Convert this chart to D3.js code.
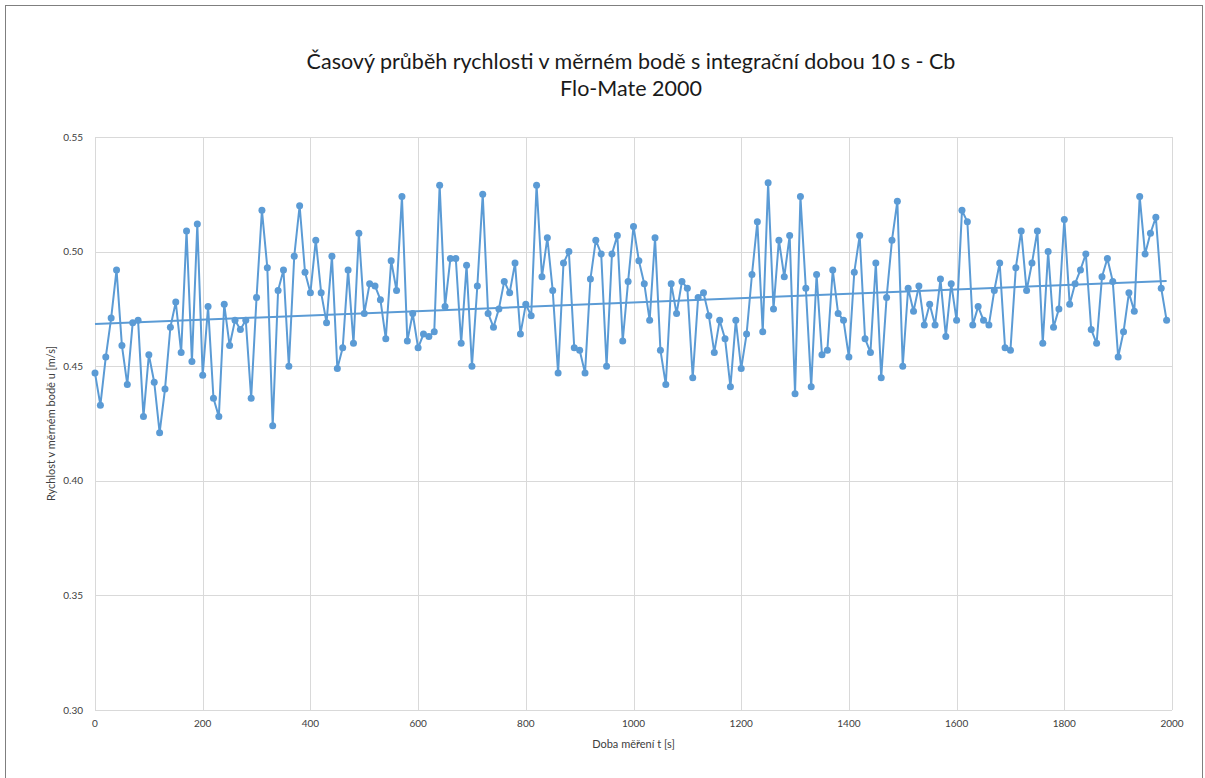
<!DOCTYPE html>
<html>
<head>
<meta charset="utf-8">
<script src="https://cdn.jsdelivr.net/npm/d3@7.9.0/dist/d3.min.js"></script>
<style>
  html, body { margin: 0; padding: 0; background: #fff; }
  svg { display: block; font-family: Lato, "Open Sans", sans-serif; }
</style>
</head>
<body>
<svg id="chart" width="1205" height="778"></svg>
<script>
// values: speed u [m/s] every 10 s, t = 0 .. 1990 s
const speeds = [
  0.447, 0.433, 0.454, 0.471, 0.492, 0.459, 0.442, 0.469, 0.470, 0.428,
  0.455, 0.443, 0.421, 0.440, 0.467, 0.478, 0.456, 0.509, 0.452, 0.512,
  0.446, 0.476, 0.436, 0.428, 0.477, 0.459, 0.470, 0.466, 0.470, 0.436,
  0.480, 0.518, 0.493, 0.424, 0.483, 0.492, 0.450, 0.498, 0.520, 0.491,
  0.482, 0.505, 0.482, 0.469, 0.498, 0.449, 0.458, 0.492, 0.460, 0.508,
  0.473, 0.486, 0.485, 0.479, 0.462, 0.496, 0.483, 0.524, 0.461, 0.473,
  0.458, 0.464, 0.463, 0.465, 0.529, 0.476, 0.497, 0.497, 0.460, 0.494,
  0.450, 0.485, 0.525, 0.473, 0.467, 0.475, 0.487, 0.482, 0.495, 0.464,
  0.477, 0.472, 0.529, 0.489, 0.506, 0.483, 0.447, 0.495, 0.500, 0.458,
  0.457, 0.447, 0.488, 0.505, 0.499, 0.450, 0.499, 0.507, 0.461, 0.487,
  0.511, 0.496, 0.486, 0.470, 0.506, 0.457, 0.442, 0.486, 0.473, 0.487,
  0.484, 0.445, 0.480, 0.482, 0.472, 0.456, 0.470, 0.462, 0.441, 0.470,
  0.449, 0.464, 0.490, 0.513, 0.465, 0.530, 0.475, 0.505, 0.489, 0.507,
  0.438, 0.524, 0.484, 0.441, 0.490, 0.455, 0.457, 0.492, 0.473, 0.470,
  0.454, 0.491, 0.507, 0.462, 0.456, 0.495, 0.445, 0.480, 0.505, 0.522,
  0.450, 0.484, 0.474, 0.485, 0.468, 0.477, 0.468, 0.488, 0.463, 0.486,
  0.470, 0.518, 0.513, 0.468, 0.476, 0.470, 0.468, 0.483, 0.495, 0.458,
  0.457, 0.493, 0.509, 0.483, 0.495, 0.509, 0.460, 0.500, 0.467, 0.475,
  0.514, 0.477, 0.486, 0.492, 0.499, 0.466, 0.460, 0.489, 0.497, 0.487,
  0.454, 0.465, 0.482, 0.474, 0.524, 0.499, 0.508, 0.515, 0.484, 0.470
];
const times = speeds.map((_, i) => i * 10);
const xTicks = [0, 200, 400, 600, 800, 1000, 1200, 1400, 1600, 1800, 2000];
const yTicks = [0.30, 0.35, 0.40, 0.45, 0.50, 0.55];
const titleLines = ['Časový průběh rychlosti v měrném bodě s integrační dobou 10 s - Cb', 'Flo-Mate 2000'];
const xTitle = 'Doba měření t [s]';
const yTitle = 'Rychlost v měrném bodě u [m/s]';

const data = times.map((t, i) => ({ t, u: speeds[i] }));

const svg = d3.select('#chart');
const margin = { top: 137, right: 33, bottom: 68, left: 95 };
const width = 1205, height = 778;
const blue = '#5b9bd5';

svg.append('rect')
  .attr('x', 5.5).attr('y', 5.5)
  .attr('width', 1197).attr('height', 780)
  .attr('fill', '#fff').attr('stroke', '#7f7f7f');

const x = d3.scaleLinear().domain([0, 2000]).range([margin.left, width - margin.right]);
const y = d3.scaleLinear().domain([0.30, 0.55]).range([height - margin.bottom, margin.top]);

// gridlines
svg.append('g')
  .selectAll('line.h')
  .data(yTicks)
  .join('line')
  .attr('x1', x(0)).attr('x2', x(2000))
  .attr('y1', d => Math.round(y(d)) + 0.5).attr('y2', d => Math.round(y(d)) + 0.5)
  .attr('stroke', '#d9d9d9');
svg.append('g')
  .selectAll('line.v')
  .data(xTicks)
  .join('line')
  .attr('x1', d => Math.round(x(d)) + 0.5).attr('x2', d => Math.round(x(d)) + 0.5)
  .attr('y1', y(0.30)).attr('y2', y(0.55))
  .attr('stroke', '#d9d9d9');

// tick labels
svg.append('g')
  .selectAll('text')
  .data(yTicks)
  .join('text')
  .attr('x', x(0) - 12).attr('y', d => y(d) + 3.5)
  .attr('text-anchor', 'end')
  .attr('font-size', 10).attr('fill', '#404040')
  .text(d3.format('.2f'));
svg.append('g')
  .selectAll('text')
  .data(xTicks)
  .join('text')
  .attr('x', d => x(d)).attr('y', y(0.30) + 17)
  .attr('text-anchor', 'middle')
  .attr('font-size', 10).attr('fill', '#404040')
  .text(d => d);

// axis titles
svg.append('text')
  .attr('x', (x(0) + x(2000)) / 2).attr('y', 748)
  .attr('text-anchor', 'middle')
  .attr('font-size', 11).attr('fill', '#404040')
  .text(xTitle);
svg.append('text')
  .attr('transform', `translate(55,${(y(0.30) + y(0.55)) / 2}) rotate(-90)`)
  .attr('text-anchor', 'middle')
  .attr('font-size', 11).attr('fill', '#404040')
  .text(yTitle);

// title
svg.append('g')
  .selectAll('text')
  .data(titleLines)
  .join('text')
  .attr('x', 631).attr('y', (d, i) => 69 + i * 27)
  .attr('text-anchor', 'middle')
  .attr('font-size', 21.5).attr('fill', '#1a1a1a')
  .text(d => d);

// series
const line = d3.line().x(d => x(d.t)).y(d => y(d.u));
svg.append('path')
  .datum(data)
  .attr('d', line)
  .attr('fill', 'none')
  .attr('stroke', blue)
  .attr('stroke-width', 2)
  .attr('stroke-linejoin', 'round');

// linear trendline (least squares fit of the series)
const mt = d3.mean(data, d => d.t), mu = d3.mean(data, d => d.u);
const slope = d3.sum(data, d => (d.t - mt) * (d.u - mu)) / d3.sum(data, d => (d.t - mt) ** 2);
const icpt = mu - slope * mt;
const tEnd = d3.max(times);
svg.append('line')
  .attr('x1', x(0)).attr('y1', y(icpt))
  .attr('x2', x(tEnd)).attr('y2', y(icpt + slope * tEnd))
  .attr('stroke', blue)
  .attr('stroke-width', 2);

svg.append('g')
  .selectAll('circle')
  .data(data)
  .join('circle')
  .attr('cx', d => x(d.t))
  .attr('cy', d => y(d.u))
  .attr('r', 3.5)
  .attr('fill', blue);
</script>
</body>
</html>
